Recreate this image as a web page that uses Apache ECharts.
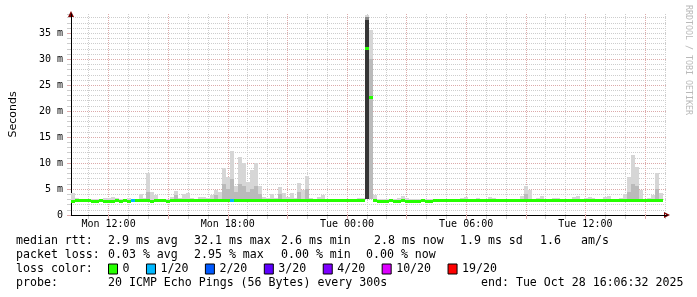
<!DOCTYPE html>
<html><head><meta charset="utf-8">
<script src="https://cdn.jsdelivr.net/npm/echarts@6/dist/echarts.min.js"></script>
<style>html,body{margin:0;padding:0;background:#fff}#c{width:697px;height:297px}</style>
</head><body><div id="c"></div>
<script>
// ---------------- data ----------------
const _ = null;
const START_HOUR = 10 + 6 / 60 + 32 / 3600;   // Mon 10:06:32 (hours since Mon 00:00)
const END_HOUR = START_HOUR + 30;              // Tue 16:06:32
const STEP_HOURS = 0.2;                        // 12 minute buckets
const Y_MAX = 38.7;                            // ms

const tickHours = [12, 18, 24, 30, 36];
const tickLabels = ['Mon 12:00', 'Mon 18:00', 'Tue 00:00', 'Tue 06:00', 'Tue 12:00'];
const gridHours = [11,12,13,14,15,16,17,18,19,20,21,22,23,24,25,26,27,28,29,30,31,32,33,34,35,36,37,38,39,40];
const majorGridHours = [12,15,18,21,24,27,30,33,36,39];
const yTicks = [0, 5, 10, 15, 20, 25, 30, 35];

const lossLevels = ['0', '1/20', '2/20', '3/20', '4/20', '10/20', '19/20'];
const lossColors = ['#26ff00', '#00b8ff', '#0059ff', '#5e00ff', '#7e00ff', '#dd00ff', '#ff0000'];

// median rtt per bucket (ms)
const medianMs = [
  2.55,2.75,2.75,2.75,2.75,2.55,2.55,2.75,2.55,2.55,
  2.55,2.75,2.55,2.75,2.55,2.75,2.75,2.75,2.75,2.75,
  2.55,2.75,2.75,2.75,2.55,2.75,2.75,2.75,2.75,2.75,
  2.75,2.75,2.75,2.75,2.75,2.75,2.75,2.75,2.75,2.75,
  2.75,2.75,2.75,2.75,2.75,2.75,2.75,2.75,2.75,2.75,
  2.75,2.75,2.75,2.75,2.75,2.75,2.75,2.75,2.75,2.75,
  2.75,2.75,2.75,2.75,2.75,2.75,2.75,2.75,2.75,2.75,
  2.75,2.75,2.75,2.75,32.0,22.7,2.75,2.55,2.55,2.55,
  2.75,2.55,2.55,2.75,2.55,2.55,2.55,2.55,2.75,2.55,
  2.55,2.75,2.75,2.75,2.75,2.75,2.75,2.75,2.75,2.75,
  2.75,2.75,2.75,2.75,2.75,2.75,2.75,2.75,2.75,2.75,
  2.75,2.75,2.75,2.75,2.75,2.75,2.75,2.75,2.75,2.75,
  2.75,2.75,2.75,2.75,2.75,2.75,2.75,2.75,2.75,2.75,
  2.75,2.75,2.75,2.75,2.75,2.75,2.75,2.75,2.75,2.75,
  2.75,2.75,2.75,2.75,2.75,2.75,2.75,2.75,2.75
];
// index into lossLevels per bucket
const lossIdx = [
  0,0,0,0,0,0,0,0,0,0, 0,0,0,0,0,1,0,0,0,0,
  0,0,0,0,0,0,0,0,0,0, 0,0,0,0,0,0,0,0,0,0,
  1,0,0,0,0,0,0,0,0,0, 0,0,0,0,0,0,0,0,0,0,
  0,0,0,0,0,0,0,0,0,0, 0,0,0,0,0,0,0,0,0,0,
  0,0,0,0,0,0,0,0,0,0, 0,0,0,0,0,0,0,0,0,0,
  0,0,0,0,0,0,0,0,0,0, 0,0,0,0,0,0,0,0,0,0,
  0,0,0,0,0,0,0,0,0,0, 0,0,0,0,0,0,0,0,0,0,
  0,0,0,0,0,0,0,0,0
];
// smoke: lowest ping, top of darker inner band, highest ping, top of dense core (ms)
const smokeLo = [
  2.6,2.6,2.6,2.6,2.6,2.6,2.6,2.6,2.6,2.6, 2.6,2.6,2.6,2.6,2.6,2.6,2.6,2.6,2.6,2.6,
  2.6,2.6,2.6,2.6,2.6,2.6,2.6,2.6,2.6,2.6, 2.6,2.6,2.6,2.6,2.6,2.6,2.6,2.6,2.6,2.6,
  2.6,2.6,2.6,2.6,2.6,2.6,2.6,2.6,2.6,2.6, 2.6,2.6,2.6,2.6,2.6,2.6,2.6,2.6,2.6,2.6,
  2.6,2.6,2.6,2.6,2.6,2.6,2.6,2.6,2.6,2.6, 2.6,2.6,2.6,2.6,3.0,3.0,2.6,2.6,2.6,2.6,
  2.6,2.6,2.6,2.6,2.6,2.6,2.6,2.6,2.6,2.6, 2.6,2.6,2.6,2.6,2.6,2.6,2.6,2.6,2.6,2.6,
  2.6,2.6,2.6,2.6,2.6,2.6,2.6,2.6,2.6,2.6, 2.6,2.6,2.6,2.6,2.6,2.6,2.6,2.6,2.6,2.6,
  2.6,2.6,2.6,2.6,2.6,2.6,2.6,2.6,2.6,2.6, 2.6,2.6,2.6,2.6,2.6,2.6,2.6,2.6,2.6,2.6,
  2.6,2.6,2.6,2.6,2.6,2.6,2.6,2.6,2.6
];
const smokeMid = [
  _,_,_,_,_,_,_,_,_,_,
  _,_,_,_,_,_,_,_,_,4.5,
  _,_,_,_,_,_,3.8,_,_,_,
  _,_,_,_,_,_,3.8,_,6.0,5.0,
  7.0,4.5,6.0,5.5,4.5,5.0,5.5,4.0,_,_,
  _,_,4.0,_,_,_,_,4.5,_,5.0,
  _,_,_,_,_,_,_,_,_,_,
  _,_,_,_,38.2,30.0,_,_,_,_,
  _,_,_,_,_,_,_,_,_,_,
  _,_,_,_,_,_,_,_,_,_,
  _,_,_,_,_,_,_,_,_,_,
  _,_,_,_,4.0,_,_,_,_,_,
  _,_,_,_,_,_,_,_,_,_,
  _,_,_,_,_,_,_,_,_,_,
  4.5,6.0,5.5,_,_,_,_,5.0,_
];
const smokeHi = [
  4.2,3.3,3.0,3.0,3.0,3.1,3.0,3.0,3.2,3.2,
  3.4,3.3,3.0,3.0,3.2,3.0,3.1,4.0,3.3,8.0,
  4.5,3.8,3.0,3.1,3.0,3.4,4.7,3.2,4.0,4.3,
  3.2,3.1,3.4,3.4,3.2,3.8,4.8,4.4,9.0,7.4,
  12.4,5.5,11.2,10.0,6.3,8.6,10.0,5.5,3.5,3.3,
  4.0,3.3,5.4,4.2,3.5,4.2,3.3,6.1,4.8,7.5,
  3.3,3.1,3.4,3.8,3.0,3.0,3.0,3.0,3.0,3.0,
  3.0,3.0,3.2,3.3,38.5,35.6,3.8,3.0,3.1,3.0,
  3.0,3.0,3.2,3.7,3.2,3.0,3.0,3.0,3.1,3.0,
  3.0,3.0,3.0,3.1,3.0,3.0,3.0,3.0,3.2,3.5,
  3.1,3.0,3.2,3.0,3.1,3.4,3.2,3.0,3.0,3.0,
  3.1,3.0,3.0,3.6,5.5,4.8,3.1,3.2,3.7,3.1,
  3.0,3.2,3.3,3.1,3.0,3.1,3.5,3.7,3.1,3.2,
  3.4,3.2,3.0,3.1,3.5,3.6,3.1,3.0,3.3,4.0,
  7.4,11.6,9.3,4.8,3.0,3.2,3.8,8.0,4.2
];
const smokeCore = [
  _,_,_,_,_,_,_,_,_,_, _,_,_,_,_,_,_,_,_,_,
  _,_,_,_,_,_,_,_,_,_, _,_,_,_,_,_,_,_,_,_,
  _,_,_,_,_,_,_,_,_,_, _,_,_,_,_,_,_,_,_,_,
  _,_,_,_,_,_,_,_,_,_, _,_,_,_,37.6,_,_,_,_,_,
  _,_,_,_,_,_,_,_,_,_, _,_,_,_,_,_,_,_,_,_,
  _,_,_,_,_,_,_,_,_,_, _,_,_,_,_,_,_,_,_,_,
  _,_,_,_,_,_,_,_,_,_, _,_,_,_,_,_,_,_,_,_,
  _,_,_,_,_,_,_,_,_
];

const rttLabel = 'median rtt:';
const rttStats = ['2.9 ms avg', '32.1 ms max', '2.6 ms min', '2.8 ms now', '1.9 ms sd', '1.6', 'am/s'];
const lossLabel = 'packet loss:';
const lossStats = ['0.03 % avg', '2.95 % max', '0.00 % min', '0.00 % now'];
const colorLabel = 'loss color:';
const probeLabel = 'probe:';
const probeText = '20 ICMP Echo Pings (56 Bytes) every 300s';
const endText = 'end: Tue Oct 28 16:06:32 2025';
const yName = 'Seconds';
const watermark = 'RRDTOOL / TOBI OETIKER';

// ---------------- styles / layout ----------------
const MONO = '"DejaVu Sans Mono", monospace';
const GRID_C = '#cdcdcd';
const MGRID_C = '#dcaaaa';
const ARROW_C = '#7f0000';
const SMOKE_LIGHT = '#d6d6d6';
const SMOKE_MID = '#8a8a8a';
const SMOKE_INNER = '#bababa';
const SMOKE_CORE = '#353535';
const rowY = [241, 255, 269, 283];
const rttX = [108, 194, 281, 374, 460, 540, 581];
const lossX = [108, 194, 281, 366];

const times = medianMs.map((_, i) => START_HOUR + i * STEP_HOURS);

const smokeData = times.map((t, i) => [t, smokeLo[i], smokeMid[i], smokeHi[i], smokeCore[i]]);

function smokeItem(params, api) {
  const t = api.value(0);
  const lo = api.value(1), mid = api.value(2), hi = api.value(3), core = api.value(4);
  const x0 = Math.round(api.coord([t, 0])[0]);
  const x1 = Math.round(api.coord([t + STEP_HOURS, 0])[0]);
  const yLo = Math.round(api.coord([t, lo])[1]);
  const band = (top, fill) => {
    const yT = Math.round(api.coord([t, top])[1]);
    return { type: 'rect', shape: { x: x0, y: yT, width: x1 - x0, height: yLo - yT }, style: { fill: fill } };
  };
  const ch = [band(hi, SMOKE_LIGHT)];
  if (mid > lo) ch.push(band(mid, core > lo ? SMOKE_MID : SMOKE_INNER));
  if (core > lo) ch.push(band(core, SMOKE_CORE));
  return { type: 'group', children: ch };
}

function medianItem(params, api) {
  const t = api.value(0), m = api.value(1);
  const p0 = api.coord([t, m]);
  const x1 = Math.round(api.coord([t + STEP_HOURS, m])[0]);
  const x0 = Math.round(p0[0]);
  const y = Math.round(p0[1] - 1.5);
  return { type: 'rect', shape: { x: x0, y: y, width: x1 - x0, height: 3 }, style: { fill: api.visual('color') } };
}

const medianSeries = lossLevels.map((name, k) => ({
  type: 'custom',
  name: name,
  renderItem: medianItem,
  data: times.map((t, i) => [t, medianMs[i], lossIdx[i]]).filter(r => r[2] === k),
  encode: { x: 0, y: 1 },
  itemStyle: { color: lossColors[k] },
  z: 4,
  silent: true,
  animation: false
}));

const txt = (x, y, s) => ({ type: 'text', x: x, y: y, silent: true,
  style: { text: s, font: '11.6px ' + MONO, fill: '#000', align: 'left', verticalAlign: 'middle' } });

const graphics = [
  txt(16, rowY[0], rttLabel),
  ...rttStats.map((s, i) => txt(rttX[i], rowY[0], s)),
  txt(16, rowY[1], lossLabel),
  ...lossStats.map((s, i) => txt(lossX[i], rowY[1], s)),
  txt(16, rowY[2], colorLabel),
  txt(16, rowY[3], probeLabel),
  txt(108, rowY[3], probeText),
  txt(481, rowY[3], endText),
  { type: 'text', x: 688, y: 5, rotation: -Math.PI / 2, silent: true,
    style: { text: watermark, font: '8.3px ' + MONO, fill: '#b9b9b9', align: 'left', verticalAlign: 'middle' } }
];

const chart = echarts.init(document.getElementById('c'), null, { renderer: 'canvas' });
chart.setOption({
  backgroundColor: '#ffffff',
  animation: false,
  grid: { left: 67, top: 14, width: 600, height: 201, containLabel: false },
  legend: {
    data: lossLevels, left: 108, top: 263, padding: 0,
    icon: 'rect', itemWidth: 9, itemHeight: 10, itemGap: 16.5,
    itemStyle: { borderColor: '#000', borderWidth: 1 },
    textStyle: { fontFamily: MONO, fontSize: 11.6, color: '#000' },
    selectedMode: false
  },
  xAxis: [
    {
      type: 'value', min: START_HOUR, max: END_HOUR, position: 'bottom', z: 1,
      axisLine: { show: true, onZero: false, lineStyle: { color: '#000', width: 1 } },
      axisTick: { show: true, customValues: majorGridHours, length: 4, lineStyle: { color: MGRID_C } },
      axisLabel: {
        customValues: tickHours, margin: 4, fontFamily: MONO, fontSize: 10, color: '#000',
        formatter: v => tickLabels[tickHours.indexOf(Math.round(v))] || ''
      },
      splitLine: { show: false }
    },
    {
      type: 'value', min: START_HOUR, max: END_HOUR, position: 'bottom', z: 0,
      axisLine: { show: true, onZero: false, symbol: ['none', 'triangle'], symbolSize: [6, 6], lineStyle: { color: ARROW_C, width: 1 } },
      axisTick: { show: true, customValues: gridHours, length: 4, lineStyle: { color: GRID_C } },
      axisLabel: { show: false },
      splitLine: { show: false }
    }
  ],
  yAxis: [
    {
      type: 'value', min: 0, max: Y_MAX, interval: 5, position: 'left', z: 1,
      name: yName, nameLocation: 'middle', nameGap: 52, nameRotate: 90,
      nameTextStyle: { fontFamily: 'DejaVu Sans', fontSize: 11, color: '#000' },
      axisLine: { show: true, onZero: false, lineStyle: { color: '#000', width: 1 } },
      axisTick: { show: true, customValues: yTicks, length: 4, lineStyle: { color: MGRID_C } },
      axisLabel: {
        customValues: yTicks, margin: 8, fontFamily: MONO, fontSize: 10, color: '#000',
        formatter: v => (v === 0 ? '0' : v + ' m')
      },
      splitLine: { show: true, showMinLine: false, showMaxLine: false, lineStyle: { color: MGRID_C, type: [1, 1], width: 1 } }
    },
    {
      type: 'value', min: 0, max: Y_MAX, interval: 1, position: 'left', z: 0,
      axisLine: { show: true, onZero: false, symbol: ['none', 'triangle'], symbolSize: [6, 6], lineStyle: { color: ARROW_C, width: 1 } },
      axisTick: { show: true, length: 4, lineStyle: { color: GRID_C } },
      axisLabel: { show: false },
      splitLine: { show: true, showMinLine: false, showMaxLine: false, lineStyle: { color: GRID_C, type: [1, 1], width: 1 } }
    }
  ],
  graphic: { elements: graphics },
  series: [
    {
      type: 'line', name: 'grid', data: [], silent: true, z: 1,
      markLine: {
        silent: true, animation: false, symbol: ['none', 'none'], z: 1,
        label: { show: false }, emphasis: { disabled: true },
        lineStyle: { type: [1, 1], width: 1 },
        data: gridHours.map(h => ({ xAxis: h, lineStyle: { color: majorGridHours.indexOf(h) >= 0 ? MGRID_C : GRID_C, type: [1, 1], width: 1 } }))
      }
    },
    {
      type: 'custom', name: 'smoke', renderItem: smokeItem, data: smokeData,
      encode: { x: 0, y: 3 }, z: 3, silent: true, animation: false
    },
    ...medianSeries
  ]
});
</script>
</body></html>
